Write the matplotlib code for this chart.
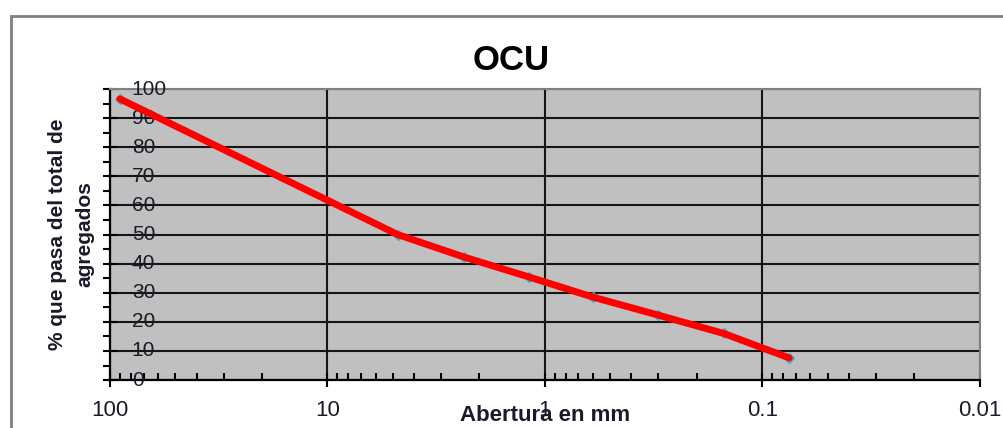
import numpy as np
import matplotlib.pyplot as plt
from matplotlib.patches import Rectangle
from matplotlib.ticker import LogLocator, NullFormatter

# datos de la curva granulometrica
abertura = [90, 4.75, 2.36, 1.18, 0.6, 0.3, 0.15, 0.075]   # mm
pasa = [96.6, 50.0, 42.3, 35.4, 28.5, 22.3, 16.0, 7.6]      # % que pasa
y_ticks = [0, 10, 20, 30, 40, 50, 60, 70, 80, 90, 100]
x_ticks = [100, 10, 1, 0.1, 0.01]
x_labels = ['100', '10', '1', '0.1', '0.01']

fig = plt.figure(figsize=(10.04, 4.28), dpi=100)
plt.rcParams['font.family'] = ['Liberation Sans', 'DejaVu Sans']

# marco exterior del grafico
fig.patches.append(Rectangle((11 / 1004, -0.1), 1.2, 1 - 16 / 428 + 0.1,
                             transform=fig.transFigure, fill=False,
                             edgecolor='#808080', linewidth=2))

ax = fig.add_axes([0.1096, 0.112, 0.866, 0.680])
ax.set_facecolor('#c0c0c0')
ax.set_xscale('log')
ax.set_xlim(100, 0.01)
ax.set_ylim(0, 100)

# cuadricula
ax.set_yticks(y_ticks)
ax.set_yticks(np.arange(5, 100, 10), minor=True)
ax.set_xticks(x_ticks)
ax.xaxis.set_minor_locator(LogLocator(base=10, subs=np.arange(2, 10)))
ax.xaxis.set_minor_formatter(NullFormatter())
ax.grid(True, which='major', color='#151515', linewidth=1.5)
ax.set_axisbelow(True)

# serie de puntos y linea
ax.plot(abertura, pasa, linestyle='none', marker='D', color='#4bacc6', markersize=5, zorder=3)
ax.plot(abertura, pasa, color='#ff0000', linewidth=5, solid_capstyle='round', zorder=4)

for s in ['left', 'bottom']:
    ax.spines[s].set_color('black')
    ax.spines[s].set_linewidth(1.6)
for s in ['top', 'right']:
    ax.spines[s].set_color('#808080')
    ax.spines[s].set_linewidth(1.5)

ax.tick_params(axis='y', which='major', direction='inout', length=10, width=1.5, labelleft=False)
ax.tick_params(axis='y', which='minor', direction='out', length=5, width=1.5)
ax.tick_params(axis='x', which='major', direction='inout', length=10, width=1.5, pad=9,
               labelsize=16, labelcolor='#1a1a2a')
ax.tick_params(axis='x', which='minor', direction='in', length=5, width=1.5)
ax.set_xticklabels(x_labels)

# etiquetas del eje y dentro del area del grafico
for v in y_ticks:
    ax.text(0.025, v, str(v), transform=ax.get_yaxis_transform(), ha='left', va='center',
            fontsize=15, color='#1a1a2a')

fig.text(511 / 1004, 1 - 60 / 428, 'OCU', fontsize=25, fontweight='bold', ha='center', va='center')
ax.set_xlabel('Abertura en mm', fontsize=16, fontweight='bold', labelpad=-11, color='#1a1a2a')
ax.set_ylabel('% que pasa del total de\nagregados', fontsize=15, fontweight='bold',
              labelpad=3, color='#1a1a2a', linespacing=1.55)

fig.savefig('out.png', dpi=100)
